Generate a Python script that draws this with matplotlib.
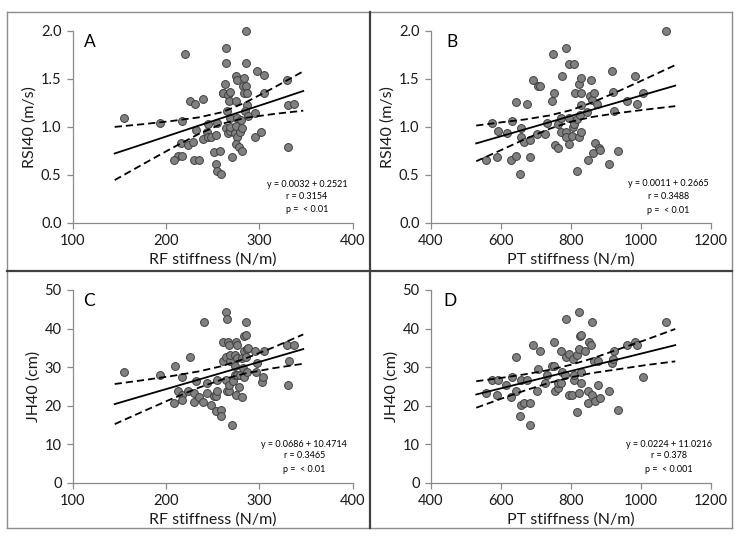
import matplotlib
matplotlib.use("Agg")
import matplotlib.pyplot as plt
from matplotlib.lines import Line2D

plt.rcParams["font.family"] = ["Lato", "DejaVu Sans"]

# ---- Panel A: RF stiffness vs RSI40 ----
rf_a = [155, 194, 220, 217, 216, 213, 217, 208, 224, 226, 231, 240, 232, 229, 230, 235,
        240, 245, 244, 245, 248, 254, 251, 254, 255, 259, 258, 255, 261, 261, 263, 264,
        264, 266, 267, 268, 265, 264, 266, 269, 268, 269, 271, 274, 275, 275, 276, 275,
        276, 275, 278, 276, 281, 279, 281, 280, 282, 283, 284, 286, 286, 286, 287, 287,
        285, 288, 295, 295, 297, 305, 305, 302, 330, 331, 337, 331]
rsi_a = [1.09, 1.04, 1.76, 1.06, 0.83, 0.70, 0.69, 0.65, 0.81, 1.27, 1.24, 1.29, 0.97, 0.84,
         0.65, 0.65, 0.87, 1.03, 0.94, 0.89, 0.89, 0.91, 0.74, 0.61, 0.54, 0.51, 0.75, 1.04,
         1.35, 1.35, 1.44, 1.82, 1.66, 1.33, 1.27, 1.36, 1.16, 0.99, 0.93, 0.96, 1.09, 1.00,
         0.68, 0.93, 1.27, 1.53, 1.49, 1.01, 0.89, 0.82, 0.79, 1.09, 0.75, 0.95, 0.99, 1.07,
         1.42, 1.35, 1.51, 2.00, 1.66, 1.42, 1.35, 1.23, 1.16, 1.11, 1.14, 0.89, 1.58, 1.54,
         1.35, 0.94, 1.49, 1.23, 1.24, 0.79]
band_x_a = [145, 175, 205, 235, 260, 285, 315, 347]
fit_a = [0.721, 0.817, 0.914, 1.011, 1.091, 1.172, 1.268, 1.372]
upper_a = [0.998, 1.026, 1.058, 1.097, 1.151, 1.252, 1.404, 1.577]
lower_a = [0.444, 0.608, 0.770, 0.924, 1.031, 1.092, 1.132, 1.167]

# ---- Panel B: PT stiffness vs RSI40 ----
pt_b = [558, 575, 593, 590, 617, 631, 628, 644, 644, 655, 657, 657, 667, 674, 684, 684,
        691, 704, 705, 712, 726, 731, 746, 752, 750, 756, 764, 762, 772, 774, 771, 785,
        785, 786, 794, 795, 796, 808, 803, 805, 809, 811, 817, 819, 823, 824, 828, 828,
        830, 830, 826, 845, 850, 855, 857, 860, 862, 866, 870, 876, 880, 883, 910, 917,
        920, 924, 934, 959, 983, 989, 1006, 1072]
rsi_b = [0.65, 1.04, 0.96, 0.68, 0.93, 1.06, 0.65, 0.69, 1.26, 0.51, 0.89, 0.99, 0.84, 1.24,
         0.86, 0.68, 1.49, 0.92, 1.42, 1.42, 0.92, 1.04, 1.27, 1.35, 1.76, 0.81, 0.78, 1.03,
         1.09, 1.53, 0.94, 0.94, 0.89, 1.82, 0.82, 1.09, 1.65, 1.65, 0.90, 1.00, 1.03, 1.35,
         0.54, 1.08, 0.89, 1.44, 1.51, 0.94, 1.35, 1.23, 1.12, 1.15, 0.65, 1.32, 1.49, 1.28,
         0.73, 1.35, 0.83, 1.24, 0.78, 0.76, 0.61, 1.58, 1.36, 1.16, 0.75, 1.27, 1.53, 1.24,
         1.35, 2.00]
band_x_b = [530, 600, 670, 740, 800, 860, 930, 1010, 1098]
fit_b = [0.826, 0.900, 0.974, 1.048, 1.112, 1.176, 1.250, 1.335, 1.428]
upper_b = [1.012, 1.045, 1.076, 1.118, 1.172, 1.251, 1.360, 1.493, 1.642]
lower_b = [0.640, 0.755, 0.872, 0.979, 1.052, 1.101, 1.140, 1.177, 1.214]

# ---- Panel C: RF stiffness vs JH40 ----
rf_c = [155, 194, 210, 217, 213, 217, 217, 208, 224, 226, 232, 230, 230, 235, 240, 241,
        244, 244, 248, 251, 254, 255, 255, 254, 259, 259, 261, 261, 264, 265, 264, 264,
        265, 266, 267, 267, 267, 269, 269, 271, 272, 274, 274, 274, 275, 276, 275, 276,
        276, 278, 279, 281, 281, 282, 283, 284, 284, 286, 286, 286, 287, 287, 288, 295,
        296, 297, 303, 304, 305, 330, 332, 331, 337]
jh_c = [28.8, 27.9, 30.2, 27.4, 23.9, 22.7, 21.4, 20.7, 23.9, 32.6, 26.5, 20.9, 23.3, 22.2,
        20.9, 41.6, 25.9, 23.3, 20.1, 22.6, 22.6, 23.9, 26.8, 18.6, 19.0, 17.3, 31.7, 36.5,
        44.2, 42.6, 32.6, 26.8, 23.9, 36.5, 35.7, 23.9, 25.3, 31.7, 33.1, 15.1, 26.3, 28.1,
        33.2, 30.2, 36.5, 35.7, 22.8, 27.9, 32.4, 24.8, 28.1, 32.4, 22.2, 29.8, 38.0, 27.4,
        34.1, 38.3, 41.6, 32.6, 34.8, 28.8, 35.0, 34.1, 28.8, 31.1, 26.1, 27.4, 34.1, 35.7,
        31.7, 25.3, 35.7]
band_x_c = [145, 175, 205, 235, 260, 285, 315, 347]
fit_c = [20.44, 22.56, 24.67, 26.79, 28.55, 30.32, 32.43, 34.69]
upper_c = [25.64, 26.62, 27.66, 28.90, 30.29, 32.25, 35.12, 38.49]
lower_c = [15.24, 18.50, 21.68, 24.68, 26.81, 28.39, 29.74, 30.89]

# ---- Panel D: PT stiffness vs JH40 ----
pt_d = [558, 574, 593, 590, 615, 631, 628, 644, 644, 655, 657, 657, 667, 674, 684, 684,
        691, 704, 707, 712, 726, 731, 745, 752, 755, 752, 764, 762, 772, 774, 771, 783,
        786, 786, 794, 795, 804, 805, 808, 809, 817, 819, 822, 824, 824, 826, 830, 828,
        828, 841, 848, 850, 853, 857, 860, 861, 866, 870, 878, 878, 883, 910, 917, 920,
        924, 934, 959, 983, 989, 1007, 1071]
jh_d = [23.3, 26.8, 26.8, 22.7, 25.5, 27.4, 22.2, 32.6, 23.9, 17.3, 20.1, 26.8, 20.7, 26.8,
        20.7, 15.1, 35.7, 23.9, 29.6, 34.1, 25.9, 28.1, 30.2, 36.5, 23.9, 30.2, 24.6, 25.9,
        25.9, 28.8, 34.1, 28.1, 42.6, 32.6, 22.7, 33.4, 22.7, 32.0, 26.8, 27.9, 18.4, 33.1,
        23.3, 34.8, 44.2, 38.0, 38.3, 28.8, 25.9, 34.1, 23.9, 20.7, 36.5, 35.7, 41.6, 22.7,
        31.7, 21.3, 31.7, 25.3, 22.0, 23.9, 31.1, 32.0, 34.1, 19.0, 35.7, 36.5, 35.7, 27.4,
        41.6]
band_x_d = [530, 600, 670, 740, 800, 860, 930, 1010, 1098]
fit_d = [22.93, 24.50, 26.08, 27.65, 29.00, 30.35, 31.93, 33.73, 35.71]
upper_d = [26.36, 27.21, 28.16, 29.32, 30.62, 32.23, 34.45, 36.96, 39.90]
lower_d = [19.49, 21.79, 23.99, 25.98, 27.38, 28.47, 29.40, 30.49, 31.51]

labels = ["A", "B", "C", "D"]
eq_text = [
    ["y = 0.0032 + 0.2521", "r = 0.3154", "p =  < 0.01"],
    ["y = 0.0011 + 0.2665", "r = 0.3488", "p =  < 0.01"],
    ["y = 0.0686 + 10.4714", "r = 0.3465", "p =  < 0.01"],
    ["y = 0.0224 + 11.0216", "r = 0.378", "p =  < 0.001"],
]

rf_ticks = [100, 200, 300, 400]
pt_ticks = [400, 600, 800, 1000, 1200]
rsi_ticks = [0.0, 0.5, 1.0, 1.5, 2.0]
jh_ticks = [0, 10, 20, 30, 40, 50]

AXIS_GREY = "#8a8a8a"
TEXT = "#1a1a1a"

fig = plt.figure(figsize=(7.41, 5.37), dpi=100)
fig.patch.set_facecolor("white")

# axes rectangles (figure fractions)
rects = [
    [0.0981, 0.5853, 0.3779, 0.3575],
    [0.5812, 0.5853, 0.3783, 0.3575],
    [0.0981, 0.1006, 0.3779, 0.3594],
    [0.5812, 0.1006, 0.3783, 0.3594],
]

panels = [
    (rf_a, rsi_a, band_x_a, fit_a, upper_a, lower_a, rf_ticks, rsi_ticks,
     "RF stiffness (N/m)", "RSI40 (m/s)", (118, 1.885), (351, [0.40, 0.27, 0.14])),
    (pt_b, rsi_b, band_x_b, fit_b, upper_b, lower_b, pt_ticks, rsi_ticks,
     "PT stiffness (N/m)", "RSI40 (m/s)", (460, 1.885), (1078, [0.41, 0.27, 0.13])),
    (rf_c, jh_c, band_x_c, fit_c, upper_c, lower_c, rf_ticks, jh_ticks,
     "RF stiffness (N/m)", "JH40 (cm)", (118, 47.1), (348, [9.9, 7.0, 3.4])),
    (pt_d, jh_d, band_x_d, fit_d, upper_d, lower_d, pt_ticks, jh_ticks,
     "PT stiffness (N/m)", "JH40 (cm)", (455, 47.1), (1080, [9.9, 7.0, 3.4])),
]

for i, (x, y, bx, fit, up, lo, xt, yt, xlab, ylab, lab_pos, eq_pos) in enumerate(panels):
    ax = fig.add_axes(rects[i])
    ax.scatter(x, y, s=32, facecolor="#808080", edgecolor="#3f3f3f", linewidth=0.7,
               zorder=3, clip_on=False)
    ax.plot(bx, fit, color="black", linewidth=1.3, zorder=4)
    ax.plot(bx, up, color="black", linewidth=1.3, linestyle=(0, (4, 2.2)), zorder=4)
    ax.plot(bx, lo, color="black", linewidth=1.3, linestyle=(0, (4, 2.2)), zorder=4)

    ax.set_xlim(xt[0], xt[-1])
    ax.set_ylim(yt[0], yt[-1])
    ax.set_xticks(xt)
    ax.set_yticks(yt)
    if isinstance(yt[1], float):
        ax.set_yticklabels(["%.1f" % v for v in yt])
    ax.spines["top"].set_visible(False)
    ax.spines["right"].set_visible(False)
    for s in ["left", "bottom"]:
        ax.spines[s].set_color(AXIS_GREY)
        ax.spines[s].set_linewidth(0.9)
    ax.tick_params(direction="out", length=4, width=0.9, color=AXIS_GREY,
                   labelcolor=TEXT, labelsize=10.5, pad=4)
    ax.set_xlabel(xlab, fontsize=11.5, color=TEXT, labelpad=3)
    ax.set_ylabel(ylab, fontsize=11.5, color=TEXT, labelpad=3)

    ax.text(lab_pos[0], lab_pos[1], labels[i], fontsize=12.5, color="black",
            ha="center", va="center")
    for line, yy in zip(eq_text[i], eq_pos[1]):
        ax.text(eq_pos[0], yy, line, fontsize=6.5, color="black", ha="center", va="center")

# panel frame
frame_grey = "#8c8c8c"
L, R = 7 / 741, 732 / 741
T, B = 1 - 12 / 537, 1 - 528 / 537
for xs, ys in [([L, R], [T, T]), ([L, R], [B, B]), ([L, L], [T, B]), ([R, R], [T, B])]:
    fig.add_artist(Line2D(xs, ys, transform=fig.transFigure, color=frame_grey, linewidth=1.0))
MX, MY = 369.5 / 741, 1 - 271 / 537
fig.add_artist(Line2D([MX, MX], [T, B], transform=fig.transFigure, color="#404040", linewidth=1.6))
fig.add_artist(Line2D([L, R], [MY, MY], transform=fig.transFigure, color="#404040", linewidth=1.6))

fig.savefig("out.png", dpi=100)
